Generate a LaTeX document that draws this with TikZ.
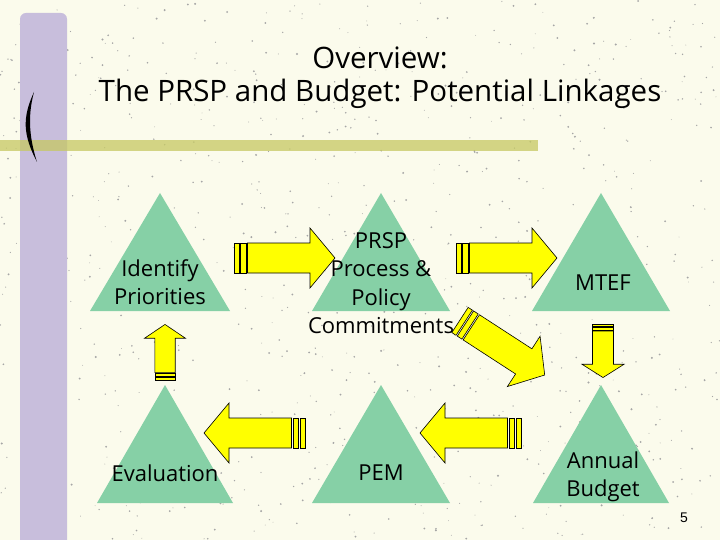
\documentclass[tikz,border=0pt]{standalone}
\usepackage{fontspec}
\setmainfont{Open Sans}
\newfontfamily\numfont{Liberation Sans}
\definecolor{paper}{RGB}{251,251,236}
\definecolor{barlilac}{RGB}{200,190,220}
\definecolor{ruleolive}{RGB}{198,200,98}
\definecolor{trigreen}{RGB}{134,208,166}
\definecolor{arrowyellow}{RGB}{255,255,0}
\begin{document}
\begin{tikzpicture}[x=1pt,y=-1pt,
		tri/.style={fill=trigreen},
		lbl/.style={align=center, inner sep=0pt, font=\fontsize{22}{28.5}\selectfont},
		arrowpart/.style={fill=arrowyellow, draw=black, line width=0.6pt},
		pics/blockarrow/.style={code={
			\filldraw[arrowpart] (0,-15) rectangle (5,15);
			\filldraw[arrowpart] (6.5,-15) rectangle (12,15);
			\filldraw[arrowpart] (13.5,-15) -- (76,-15) -- (76,-30) -- (101,0)
				-- (76,30) -- (76,15) -- (13.5,15) -- cycle;
		}}]
		\useasboundingbox (0,0) rectangle (720,540);
		\fill[paper] (0,0) rectangle (720,540);
		% speckled paper
		\pgfmathsetseed{4}
		\foreach \i in {1,...,900} {
			\fill[black!35] ({rnd*720},{rnd*540}) circle ({0.4+rnd*0.7});
		}
		% side bar and title rule
		\fill[barlilac, rounded corners=6] (20,560) -- (20,13) -- (67,13) -- (67,560) -- cycle;
		\fill[ruleolive, opacity=0.75] (0,140) rectangle (538,151);
		\fill[black] (34,92) .. controls (22,118) and (23,135) .. (37,162)
			.. controls (30,140) and (27,118) .. cycle;
		\node[align=center, inner sep=0pt, font=\fontsize{29.5}{33}\selectfont] (title) at (380,78)
			{Overview:\\The PRSP and Budget: Potential Linkages};
		% triangles
		\foreach \x/\y/\w in {160/193/70, 381/193/69, 601/193/69, 165/385/68, 381/385/69, 601/385/68} {
			\fill[tri] (\x,\y) -- (\x-\w,\y+118) -- (\x+\w,\y+118) -- cycle;
		}
		\node[lbl] (prio) at (160,282) {Identify\\Priorities};
		\node[lbl] (prsp) at (381,283) {PRSP\\Process \&\\Policy\\Commitments};
		\node[lbl] (mtef) at (603,283) {MTEF};
		\node[lbl] (eval) at (165,473) {Evaluation};
		\node[lbl] (pem) at (381,473) {PEM};
		\node[lbl] (budget) at (603,477) {Annual\\Budget};
		% arrows
		\pic at (234,258) {blockarrow};
		\pic at (456,258) {blockarrow};
		\pic[rotate=-33] at (460,320) {blockarrow};
		\pic[rotate=-90, xscale=0.53, yscale=0.7] at (603,324) {blockarrow};
		\pic[rotate=180] at (521,433) {blockarrow};
		\pic[rotate=180] at (305,433) {blockarrow};
		\pic[rotate=90, xscale=0.55, yscale=0.68] at (165,380) {blockarrow};
		\node[font=\numfont\fontsize{14}{16}\selectfont, inner sep=0pt] (pagenum) at (684,518) {5};
	\end{tikzpicture}
\end{document}
